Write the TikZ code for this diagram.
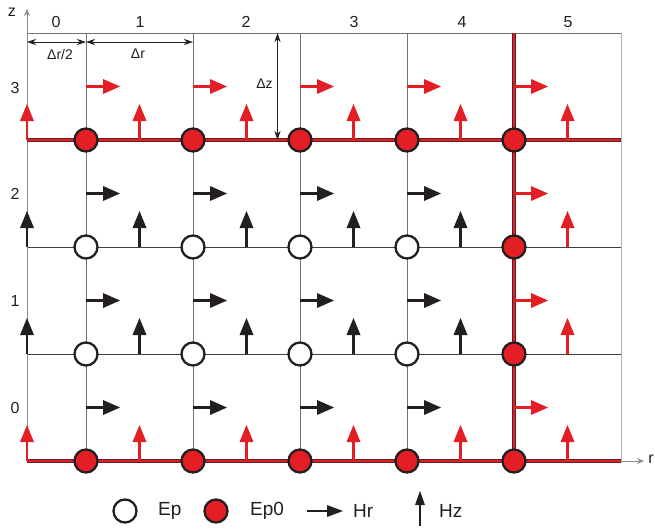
\documentclass[tikz,border=0pt]{standalone}
\usepackage{fontspec}
\setmainfont{Liberation Sans}
\usetikzlibrary{arrows.meta}
\definecolor{rd}{HTML}{E31E24}
\definecolor{bk}{HTML}{231F20}
\newcommand\hrvec[3]{%
  \draw[#3, line width=2.7pt] (#1,#2) -- ++(19,0);
  \fill[#3] (#1+17,#2-7.5) -- (#1+34,#2) -- (#1+17,#2+7.5) -- cycle;}
\newcommand\hzvec[3]{%
  \draw[#3, line width=2.7pt] (#1,#2) -- ++(0,-21);
  \fill[#3] (#1-7,#2-19) -- (#1,#2-36) -- (#1+7,#2-19) -- cycle;}
\begin{document}
\begin{tikzpicture}[x=1pt,y=-1pt,
  gridv/.style={draw=black!55, line width=0.9pt},
  gridh/.style={draw=black!75, line width=0.9pt},
  axisl/.style={draw=black!45, line width=0.9pt},
  redunder/.style={draw=bk!70!rd, line width=3.6pt},
  redover/.style={draw=rd, line width=2.0pt},
  dimarr/.style={draw=bk, line width=0.8pt, {Stealth[length=9pt,width=6pt]}-{Stealth[length=9pt,width=6pt]}},
  epo/.style={circle, draw=bk, fill=white, line width=2.3pt, minimum size=23pt, inner sep=0pt},
  epr/.style={circle, draw=bk, fill=rd, line width=2.3pt, minimum size=23pt, inner sep=0pt},
  lbl/.style={text=bk, font=\fontsize{16}{18}\selectfont, inner sep=0pt},
  dlbl/.style={text=bk, font=\fontsize{14}{16}\selectfont, inner sep=0pt},
  leg/.style={text=bk, font=\fontsize{19}{21}\selectfont, inner sep=0pt, anchor=west}
]
\useasboundingbox (0,0) rectangle (655,531);

% grid
\draw[gridv] (27,33) -- (621,33);
\foreach \y in {247,354} \draw[gridh] (27,\y) -- (621,\y);
\foreach \x in {86,193,300,407} \draw[gridv] (\x,33) -- (\x,461);
\draw[draw=black!30, line width=0.9pt] (621,33) -- (621,461);

% axes
\coordinate (zb) at (27,461);
\coordinate (zt) at (27,9);
\coordinate (rb) at (621,461);
\coordinate (rt) at (644,461);
\draw[axisl, -{Stealth[length=7pt,width=6pt]}] (zb) -- (zt);
\draw[axisl, -{Stealth[length=7pt,width=6pt]}] (rb) -- (rt);
\node[lbl] (zl) at (12,12) {z};
\node[lbl] (rl) at (651,459) {r};

% red lines
\draw[redunder] (27,140) -- (621,140);
\draw[redover] (27,140) -- (621,140);
\draw[redunder] (27,461) -- (621,461);
\draw[redover] (27,461) -- (621,461);
\draw[redunder] (514,33) -- (514,461);
\draw[redover] (514,33) -- (514,461);

% labels
\foreach \x/\t in {56/0,140/1,246/2,354/3,462/4,568/5} \node[lbl] (c\t) at (\x,22) {\t};
\foreach \y/\t in {88/3,194/2,301/1,408/0} \node[lbl] (w\t) at (15,\y) {\t};

% dimensions
\coordinate (d0) at (27,42);
\coordinate (d1) at (86,42);
\coordinate (d2) at (193,42);
\coordinate (dz0) at (277.5,33);
\coordinate (dz1) at (277.5,140);
\draw[dimarr] (d0) -- (d1);
\draw[dimarr] (d1) -- (d2);
\draw[dimarr] (dz0) -- (dz1);
\node[dlbl] (lrh) at (60,54) {Δr/2};
\node[dlbl] (lr) at (138,54) {Δr};
\node[dlbl] (lz) at (264.5,83.5) {Δz};

% Hr vectors
\foreach \y in {193.5,300.5,407.5} \foreach \x in {86,193,300,407}
  {\hrvec{\x}{\y}{bk}}
\foreach \x in {86,193,300,407,514} {\hrvec{\x}{86.5}{rd}}
\foreach \y in {193.5,300.5,407.5} {\hrvec{514}{\y}{rd}}

% Hz vectors
\foreach \y in {247,354} \foreach \x in {27,139.5,246.5,353.5,460.5}
  {\hzvec{\x}{\y}{bk}}
\foreach \y in {140,461} \foreach \x in {27,139.5,246.5,353.5,460.5,567.5}
  {\hzvec{\x}{\y}{rd}}
\foreach \y in {247,354} {\hzvec{567.5}{\y}{rd}}

% Ep nodes
\foreach \y [count=\j] in {247,354} \foreach \x [count=\i] in {86,193,300,407}
  \node[epo] (ep-\i-\j) at (\x,\y) {};
\foreach \y [count=\j] in {140,461} \foreach \x [count=\i] in {86,193,300,407,514}
  \node[epr] (epz-\i-\j) at (\x,\y) {};
\foreach \y [count=\j] in {247,354} \node[epr] (epc-\j) at (514,\y) {};

% legend
\node[epo] (lg1) at (125,511) {};
\node[leg] (lg1t) at (158,511) {Ep};
\node[epr] (lg2) at (216,511) {};
\node[leg] (lg2t) at (250,511) {Ep0};
\draw[bk, line width=2.4pt] (307,511) -- (330,511);
\fill[bk] (327,505) -- (343,511) -- (327,517) -- cycle;
\node[leg] (lg3t) at (353,511) {Hr};
\draw[bk, line width=2.2pt] (420,526) -- (420,502);
\fill[bk] (415,505) -- (420,491) -- (425,505) -- cycle;
\node[leg] (lg4t) at (439,511) {Hz};
\end{tikzpicture}
\end{document}
